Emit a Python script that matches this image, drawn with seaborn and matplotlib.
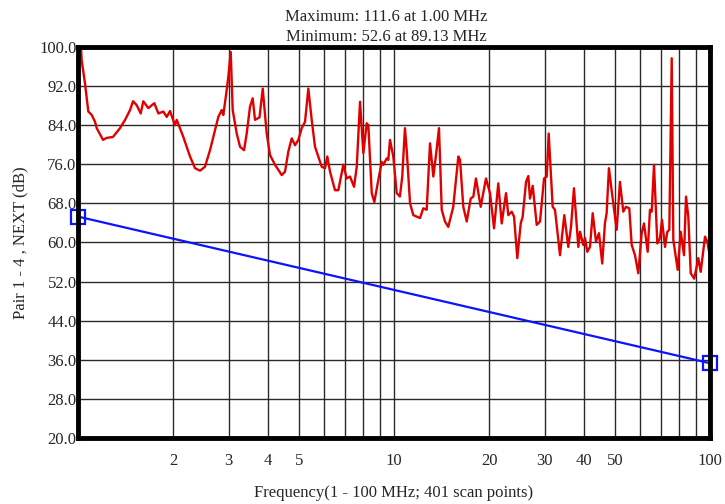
import numpy as np
import pandas as pd
import matplotlib
matplotlib.use('Agg')
import matplotlib.pyplot as plt
from matplotlib.ticker import FixedLocator, NullLocator, FixedFormatter
import seaborn as sns

# ── Data (MHz, dB) ────────────────────────────────────
freq_mhz = [
    1.000, 1.027, 1.052, 1.078, 1.105, 1.132, 1.146, 1.200, 1.232, 1.290,
    1.358, 1.409, 1.461, 1.493, 1.534, 1.579, 1.609, 1.669, 1.744, 1.796,
    1.862, 1.909, 1.955, 2.027, 2.053, 2.154, 2.262, 2.346, 2.433, 2.522,
    2.617, 2.780, 2.850, 2.883, 2.955, 2.990, 3.043, 3.087, 3.179, 3.256,
    3.353, 3.419, 3.502, 3.571, 3.632, 3.753, 3.842, 3.955, 4.052, 4.202,
    4.412, 4.520, 4.630, 4.746, 4.862, 4.980, 5.105, 5.229, 5.357, 5.490,
    5.623, 5.760, 5.906, 6.049, 6.151, 6.273, 6.506, 6.665, 6.912, 7.086,
    7.258, 7.473, 7.622, 7.807, 7.997, 8.198, 8.294, 8.503, 8.666, 8.920,
    9.144, 9.252, 9.482, 9.593, 9.713, 9.949, 10.20, 10.44, 10.62, 10.83,
    10.97, 11.24, 11.51, 12.09, 12.38, 12.69, 13.00, 13.32, 13.58, 13.88,
    14.16, 14.50, 14.85, 15.40, 15.98, 16.18, 16.57, 16.99, 17.49, 17.83,
    18.17, 18.81, 19.55, 20.13, 20.73, 21.38, 21.92, 22.62, 23.00, 23.58,
    23.98, 24.56, 25.18, 25.54, 26.17, 26.61, 26.94, 27.48, 28.29, 28.98,
    29.84, 30.43, 30.87, 31.78, 32.32, 33.52, 34.59, 35.61, 36.32, 37.11,
    38.31, 38.78, 39.72, 40.22, 40.90, 41.71, 42.54, 43.57, 44.54, 45.60,
    46.50, 47.09, 47.88, 48.83, 50.66, 51.89, 53.16, 54.21, 55.54, 56.52,
    57.90, 59.31, 60.79, 61.82, 63.51, 64.58, 65.39, 66.50, 68.12, 69.47,
    70.49, 72.05, 73.27, 74.35, 75.66, 76.55, 79.04, 80.78, 82.75, 83.97,
    85.39, 86.90, 89.13, 90.78, 91.84, 93.45, 96.43, 98.05, 100.0,
]
next_db = [
    111.6, 97.3, 92.6, 86.8, 86.1, 84.7, 83.4, 81.0, 81.4, 81.6,
    83.4, 85.1, 87.1, 88.9, 88.1, 86.4, 88.9, 87.5, 88.5, 86.4,
    86.8, 85.7, 86.9, 84.0, 85.1, 81.6, 77.6, 75.2, 74.7, 75.5,
    78.9, 85.7, 87.1, 86.1, 91.2, 93.9, 99.0, 87.1, 82.3, 79.6,
    78.9, 82.3, 87.8, 89.5, 85.1, 85.6, 91.5, 82.3, 77.9, 75.9,
    73.8, 74.5, 78.6, 81.3, 79.9, 81.0, 83.4, 84.7, 91.5, 85.1,
    79.6, 77.6, 75.5, 75.2, 77.6, 74.5, 70.7, 70.7, 75.9, 73.1,
    73.5, 71.4, 75.5, 88.8, 78.3, 84.4, 84.0, 70.1, 68.3, 72.8,
    76.5, 75.9, 77.2, 76.9, 81.0, 77.6, 70.1, 69.4, 73.5, 83.4,
    78.9, 68.0, 65.6, 65.0, 67.0, 66.7, 80.3, 73.5, 77.9, 83.4,
    66.7, 64.3, 63.2, 67.3, 77.6, 76.9, 67.3, 64.3, 69.0, 69.4,
    73.1, 67.3, 73.1, 70.1, 62.9, 72.1, 63.9, 70.1, 65.6, 66.3,
    65.3, 56.8, 63.9, 65.3, 72.4, 73.6, 69.0, 71.6, 63.6, 64.3,
    73.1, 73.5, 82.3, 67.3, 66.7, 57.4, 65.6, 59.1, 63.2, 71.1,
    59.1, 62.2, 59.5, 60.9, 58.1, 59.1, 66.0, 60.2, 61.9, 55.7,
    63.9, 66.0, 75.2, 70.7, 62.6, 72.4, 66.3, 67.3, 67.0, 59.5,
    57.4, 53.7, 61.9, 63.9, 58.1, 66.7, 66.3, 75.9, 59.8, 60.9,
    64.6, 59.1, 62.2, 62.6, 97.7, 60.5, 54.4, 62.2, 57.4, 69.4,
    65.3, 53.7, 52.6, 55.1, 56.8, 54.0, 61.2, 60.2, 57.1,
]

# limit line (straight on log axis)
limit_freq = [1.0, 100.0]
limit_db = [65.3, 35.3]

y_ticks = [20.0, 28.0, 36.0, 44.0, 52.0, 60.0, 68.0, 76.0, 84.0, 92.0, 100.0]
x_labels = [2, 3, 4, 5, 10, 20, 30, 40, 50, 100]
x_grid = [2, 3, 4, 5, 6, 7, 8, 9, 10, 20, 30, 40, 50, 60, 70, 80, 90]

sweep = pd.DataFrame({'freq': freq_mhz, 'db': next_db})
limit = pd.DataFrame({'freq': limit_freq, 'db': limit_db})

sns.set_style('white')
plt.rcParams['font.family'] = ['Liberation Serif', 'DejaVu Serif']

fig = plt.figure(figsize=(7.25, 5.04), dpi=100)
ax = fig.add_axes([0.1076, 0.131, 0.8717, 0.7757])

ax.set_xscale('log')
ax.set_xlim(1, 100)
ax.set_ylim(20, 100)

for xv in x_grid:
    ax.axvline(xv, color='#2a2a2a', lw=1.0, zorder=1)
for yv in y_ticks[1:-1]:
    ax.axhline(yv, color='#2a2a2a', lw=1.0, zorder=1)

sns.lineplot(data=sweep, x='freq', y='db', ax=ax, color='#e00000',
             lw=1.7, sort=False, estimator=None, zorder=3)
sns.lineplot(data=limit, x='freq', y='db', ax=ax, color='#0a14ff',
             lw=1.6, estimator=None, marker='s', markersize=9.5,
             markerfacecolor='none', markeredgecolor='#0a14ff',
             markeredgewidth=1.6, zorder=4, clip_on=False)

ax.yaxis.set_major_locator(FixedLocator(y_ticks))
ax.set_yticklabels([f'{v:.1f}' for v in y_ticks])
ax.xaxis.set_major_locator(FixedLocator(x_labels))
ax.xaxis.set_major_formatter(FixedFormatter([str(v) for v in x_labels]))
ax.xaxis.set_minor_locator(NullLocator())
ax.tick_params(axis='x', length=0, pad=11, labelsize=12)
ax.tick_params(axis='y', length=0, pad=1, labelsize=12)

for sp in ax.spines.values():
    sp.set_visible(True)
    sp.set_color('black')
    sp.set_linewidth(3.5)
    sp.set_zorder(5)

ax.set_xlabel('Frequency(1 - 100 MHz; 401 scan points)', fontsize=12, labelpad=11)
ax.set_ylabel('Pair 1 - 4 , NEXT (dB)', fontsize=12, labelpad=8)
ax.set_title('Maximum: 111.6 at 1.00 MHz\nMinimum: 52.6 at 89.13 MHz',
             fontsize=12, pad=4, linespacing=1.4, x=0.488)

fig.savefig('out.png', dpi=100)
